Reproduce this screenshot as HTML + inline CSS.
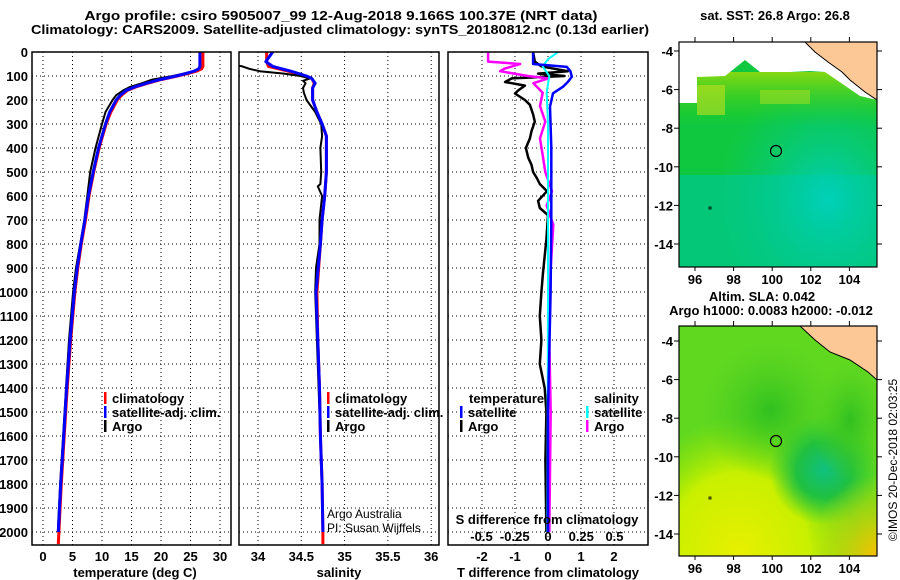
<!DOCTYPE html>
<html><head><meta charset="utf-8"><style>
html,body{margin:0;padding:0;background:#fff;}
svg{display:block;font-family:"Liberation Sans",Arial,sans-serif;}
.b{font-weight:bold;font-size:13px;}
</style></head><body>
<svg id="fig" width="900" height="580" viewBox="0 0 900 580" xmlns="http://www.w3.org/2000/svg">
<defs>
<clipPath id="c1"><rect x="32" y="52" width="199" height="493"/></clipPath>
<clipPath id="c2"><rect x="239" y="52" width="200" height="493"/></clipPath>
<clipPath id="c3"><rect x="448" y="52" width="200" height="493"/></clipPath>
<clipPath id="cm1"><rect x="679" y="42" width="198" height="225"/></clipPath>
<clipPath id="cm2"><rect x="679" y="326" width="198" height="230"/></clipPath>
<radialGradient id="gTeal" cx="0.75" cy="0.7" r="0.55"><stop offset="0" stop-color="#00d0b8"/><stop offset="1" stop-color="#00c890" stop-opacity="0"/></radialGradient>
<linearGradient id="gTop" x1="0" y1="0" x2="0" y2="1"><stop offset="0" stop-color="#b8e000"/><stop offset="1" stop-color="#30d000" stop-opacity="0"/></linearGradient>
<radialGradient id="gBlob" cx="0.5" cy="0.5" r="0.5"><stop offset="0" stop-color="#10c080"/><stop offset="0.5" stop-color="#20c040"/><stop offset="1" stop-color="#30c830" stop-opacity="0"/></radialGradient>
<radialGradient id="gYel" cx="0.3" cy="1" r="0.6"><stop offset="0" stop-color="#e8f000"/><stop offset="0.6" stop-color="#c8f000"/><stop offset="1" stop-color="#a0e800" stop-opacity="0"/></radialGradient>
<radialGradient id="gOr" cx="1" cy="1" r="0.35"><stop offset="0" stop-color="#f8c000"/><stop offset="1" stop-color="#f0e000" stop-opacity="0"/></radialGradient>
<radialGradient id="gDk" cx="0.5" cy="0.5" r="0.5"><stop offset="0" stop-color="#30c020"/><stop offset="1" stop-color="#50d020" stop-opacity="0"/></radialGradient>
</defs>

<text class="b" x="341" y="20" text-anchor="middle" font-size="13" textLength="513" lengthAdjust="spacingAndGlyphs">Argo profile: csiro 5905007_99 12-Aug-2018 9.166S 100.37E (NRT data)</text>
<text class="b" x="340" y="34" text-anchor="middle" font-size="13" textLength="618" lengthAdjust="spacingAndGlyphs">Climatology: CARS2009. Satellite-adjusted climatology: synTS_20180812.nc (0.13d earlier)</text>

<g id="grids"></g>
<g id="curves"></g>
<g id="frames"></g>
<g id="labels"></g>

<g class="b">
<rect x="104" y="392" width="2.5" height="12" fill="#f00"/><text x="112" y="403">climatology</text>
<rect x="104" y="406" width="2.5" height="12" fill="#00f"/><text x="112" y="417">satellite-adj. clim.</text>
<rect x="104" y="420" width="2.5" height="12" fill="#000"/><text x="112" y="431">Argo</text>
</g>
<g class="b">
<rect x="327" y="392" width="2.5" height="12" fill="#f00"/><text x="335" y="403">climatology</text>
<rect x="327" y="406" width="2.5" height="12" fill="#00f"/><text x="335" y="417">satellite-adj. clim.</text>
<rect x="327" y="420" width="2.5" height="12" fill="#000"/><text x="335" y="431">Argo</text>
</g>
<text x="327" y="518" font-size="12">Argo Australia</text>
<text x="327" y="532" font-size="12">PI: Susan Wijffels</text>
<g class="b">
<text x="469" y="403">temperature</text>
<rect x="460" y="406" width="2.5" height="12" fill="#00f"/><text x="468" y="417">satellite</text>
<rect x="460" y="420" width="2.5" height="12" fill="#000"/><text x="468" y="431">Argo</text>
<text x="594" y="403">salinity</text>
<rect x="586" y="406" width="2.5" height="12" fill="#0ff"/><text x="594" y="417">satellite</text>
<rect x="586" y="420" width="2.5" height="12" fill="#f0f"/><text x="594" y="431">Argo</text>
</g>
<text class="b" x="547" y="524" text-anchor="middle">S difference from climatology</text>
<g id="sticks" class="b"></g>

<text class="b" x="775" y="20" text-anchor="middle" font-size="12">sat. SST: 26.8 Argo: 26.8</text>
<g clip-path="url(#cm1)">
<rect x="679" y="42" width="198" height="225" fill="#10c840"/>
<rect x="679" y="175" width="198" height="92" fill="#00c890" opacity="0.7"/>
<rect x="679" y="42" width="198" height="225" fill="url(#gTeal)"/>
<rect x="679" y="72" width="198" height="55" fill="url(#gTop)" opacity="0.7"/>
<rect x="697" y="85" width="28" height="30" fill="#c0e020" opacity="0.6"/>
<rect x="760" y="90" width="50" height="14" fill="#b0e020" opacity="0.5"/>
<polygon points="679,42 877,42 877,100 860,96 825,72 810,71 790,72 760,72 745,60 725,76 697,77 697,103 679,103" fill="#fff"/>
<polygon points="805,42 877,42 877,100 865,92 850,80 842,72 828,62 815,52" fill="#fbc896" stroke="#000" stroke-width="1"/>
<circle cx="776" cy="151" r="5.5" fill="none" stroke="#000" stroke-width="1.2"/>
<rect x="709" y="207" width="2" height="2" fill="none" stroke="#000" stroke-width="0.8"/>
</g>
<rect x="679" y="42" width="198" height="225" fill="none" stroke="#000" stroke-width="1.2"/>

<text class="b" x="762" y="301" text-anchor="middle" font-size="12">Altim. SLA: 0.042</text>
<text class="b" x="771" y="315" text-anchor="middle" font-size="12">Argo h1000: 0.0083 h2000: -0.012</text>
<g clip-path="url(#cm2)">
<rect x="679" y="326" width="198" height="230" fill="#60d820"/>
<rect x="679" y="326" width="198" height="230" fill="url(#gYel)"/>
<ellipse cx="770" cy="410" rx="70" ry="70" fill="url(#gDk)"/>
<ellipse cx="824" cy="470" rx="55" ry="55" fill="url(#gBlob)"/>
<ellipse cx="850" cy="420" rx="40" ry="60" fill="url(#gDk)"/>
<rect x="679" y="326" width="198" height="230" fill="url(#gOr)"/>
<polygon points="800,326 877,326 877,380 868,372 850,360 830,352 815,340" fill="#fbc896" stroke="#000" stroke-width="1"/>
<circle cx="776" cy="441" r="5.5" fill="none" stroke="#000" stroke-width="1.2"/>
<rect x="709" y="497" width="2" height="2" fill="none" stroke="#000" stroke-width="0.8"/>
</g>
<rect x="679" y="326" width="198" height="230" fill="none" stroke="#000" stroke-width="1.2"/>
<g id="maplabels" class="b"></g>
<text transform="translate(897,460) rotate(-90)" text-anchor="middle" font-size="12">©IMOS 20-Dec-2018 02:03:25</text>
</svg>
<script>
var depthTicks = [0,100,200,300,400,500,600,700,800,900,1000,1100,1200,1300,1400,1500,1600,1700,1800,1900,2000];
var tempTicks = [0,5,10,15,20,25,30];
var salTicks = [34,34.5,35,35.5,36];
var salTickLabels = ["34","34.5","35","35.5","36"];
var dtTicks = [-2,-1,0,1,2];
var dsTicks = [-0.5,-0.25,0,0.25,0.5];
var dsTickLabels = ["-0.5","-0.25","0","0.25","0.5"];

var tDepth = [0,60,70,80,90,100,115,130,145,160,180,200,250,300,400,500,600,700,800,900,1000,1200,1400,1600,1800,2000,2050];
var tClim  = [27.1,27.1,26.9,26,24.5,22.8,20,17.8,15.8,14.3,13.3,12.6,11.5,10.7,9.5,8.6,7.8,7.2,6.5,5.9,5.4,4.7,4.1,3.6,3.1,2.7,2.6];
var tSat   = [26.6,26.6,26.4,25.6,24.2,22.6,19.8,17.6,15.6,14.1,13.1,12.4,11.3,10.6,9.4,8.5,7.7,7.1,6.4,5.8,5.3,4.6,4.0,3.5,3.0,2.6];
var tArgo  = [26.6,26.6,26.3,25.4,23.8,22.0,18.5,16.8,14.8,13.6,12.4,11.8,10.6,10.0,8.9,8.0,7.5,7.0,6.3,5.6,5.1,4.4,3.9,3.4,2.9,2.5];

var sDepth = [0,40,60,80,100,110,130,150,200,250,300,350,400,500,600,700,800,1000,1200,1400,1600,1800,2000,2050];
var sClim  = [34.10,34.10,34.12,34.35,34.55,34.62,34.65,34.63,34.63,34.68,34.74,34.79,34.79,34.79,34.77,34.74,34.72,34.68,34.69,34.71,34.72,34.74,34.75,34.75];
var sSat   = [34.17,34.09,34.17,34.38,34.56,34.62,34.66,34.63,34.63,34.68,34.74,34.79,34.79,34.79,34.77,34.74,34.72,34.67,34.69,34.71,34.72,34.74,34.75];
var saDepth = [45,60,70,80,90,100,110,120,130,150,170,200,250,300,350,400,500,550,560,600,700,800,900,1000,1200,1400,1600,1800,2000];
var sArgo   = [33.6,33.82,33.9,34.02,34.3,34.49,34.6,34.52,34.55,34.52,34.53,34.56,34.66,34.73,34.74,34.72,34.73,34.72,34.69,34.74,34.71,34.71,34.67,34.66,34.68,34.70,34.72,34.74,34.75];

var dtSatDepth = [0,50,62,80,103,125,145,172,227,400,700,1000,1500,2000];
var dtSat      = [-0.45,-0.45,0.57,0.68,0.72,0.6,0.45,0.15,0.06,0.1,0.1,0.08,0.0,0.0];
var dtArgoDepth = [0,40,60,70,80,90,100,110,125,140,160,173,200,220,260,290,330,360,400,440,470,500,525,550,580,620,650,680,780,920,1000,1100,1200,1300,1400,1500,1700,2000];
var dtArgo      = [-0.45,-0.4,-0.2,0.2,0.6,-0.3,0.5,-1.1,-1.3,-0.7,-0.9,-1.0,-0.7,-0.55,-0.45,-0.4,-0.5,-0.55,-0.67,-0.6,-0.5,-0.45,-0.34,-0.25,-0.03,-0.3,-0.25,0.0,-0.05,-0.15,-0.2,-0.25,-0.2,-0.25,-0.1,-0.05,-0.08,-0.05];
var dsArgoDepth = [0,40,50,70,80,100,110,130,170,225,290,360,430,500,580,640,720,900,1200,1500,2000];
var dsArgo      = [-0.45,-0.45,-0.21,-0.33,-0.36,-0.15,0.0,-0.11,-0.04,-0.06,-0.02,-0.06,-0.04,-0.02,0.03,-0.01,0.04,0.02,0.01,0.02,0.01];
var dsSatDepth = [0,30,60,100,170,300,1000,2000];
var dsSat      = [0.075,0.0,-0.04,0.01,-0.01,0.0,0.0,-0.005];

var lonTicks = [96,98,100,102,104];
var latTicks = [-4,-6,-8,-10,-12,-14];

var NS = "http://www.w3.org/2000/svg";
function yD(d){ return 52 + d*0.24; }
function xT(v){ return 43 + v*5.9; }
function xS(v){ return 258 + (v-34)*86.6; }
function xDT(v){ return 548 + v*33; }
function xDS(v){ return 548 + v*133; }
function xLon(v){ return 695 + (v-96)*19.3; }
function yLat1(v){ return 51 + (-4 - v)*19.3; }
function yLat2(v){ return 341 + (-4 - v)*19.3; }

function mk(tag, attrs, parent){
  var e = document.createElementNS(NS, tag);
  for (var k in attrs) e.setAttribute(k, attrs[k]);
  parent.appendChild(e); return e;
}
var grids = document.getElementById('grids');
var curves = document.getElementById('curves');
var frames = document.getElementById('frames');
var labels = document.getElementById('labels');

var panels = [
  {x0:32, x1:231, ticks:tempTicks, f:xT, lab:tempTicks.map(String), title:"temperature (deg C)", tx:135, name:"temperature"},
  {x0:239, x1:439, ticks:salTicks, f:xS, lab:salTickLabels, title:"salinity", tx:339, name:"salinity"},
  {x0:448, x1:648, ticks:dtTicks, f:xDT, lab:dtTicks.map(String), title:"T difference from climatology", tx:548, name:"difference"}
];
panels.forEach(function(p){
  depthTicks.forEach(function(d){
    var l = mk('line',{x1:p.x0,x2:p.x1,y1:yD(d),y2:yD(d),stroke:'#000','stroke-width':1,'stroke-dasharray':'1,3'},grids);
    
    
  });
  p.ticks.forEach(function(v,i){
    var l = mk('line',{x1:p.f(v),x2:p.f(v),y1:52,y2:545,stroke:'#000','stroke-width':1,'stroke-dasharray':'1,3'},grids);
    
    
    var t = mk('text',{x:p.f(v),y:561,'text-anchor':'middle','class':'b'},labels);
    t.textContent = p.lab[i];
    
    
  });
  var r = mk('rect',{x:p.x0,y:52,width:p.x1-p.x0,height:493,fill:'none',stroke:'#000','stroke-width':1.5},frames);
  
  
  var tt = mk('text',{x:p.tx,y:577,'text-anchor':'middle','class':'b'},labels);
  tt.textContent = p.title;
  
  
});
depthTicks.forEach(function(d){
  var t = mk('text',{x:28,y:yD(d)+5,'text-anchor':'end','class':'b'},labels);
  t.textContent = d;
  
  
});
var st = document.getElementById('sticks');
dsTicks.forEach(function(v,i){
  var t = mk('text',{x:xDS(v),y:541,'text-anchor':'middle'},st);
  t.textContent = dsTickLabels[i];
  
  
});

function line(depths, vals, fx, color, w, clip, name){
  var pts = [];
  for (var i=0;i<vals.length;i++) pts.push(fx(vals[i]).toFixed(1)+','+yD(depths[i]).toFixed(1));
  var pl = mk('polyline',{points:pts.join(' '),fill:'none',stroke:color,'stroke-width':w,'clip-path':'url(#'+clip+')','stroke-linejoin':'round'},curves);
  
  
}
line(tDepth, tClim, xT, '#f00', 3, 'c1', 'temperature-climatology-line');
line(tDepth, tArgo, xT, '#000', 2, 'c1', 'temperature-argo-line');
line(tDepth, tSat, xT, '#00f', 3, 'c1', 'temperature-satellite-line');
line(sDepth, sClim, xS, '#f00', 3, 'c2', 'salinity-climatology-line');
line(saDepth, sArgo, xS, '#000', 2, 'c2', 'salinity-argo-line');
line(sDepth, sSat, xS, '#00f', 3, 'c2', 'salinity-satellite-line');
line(dtArgoDepth, dtArgo, xDT, '#000', 2.5, 'c3', 't-diff-argo-line');
line(dsArgoDepth, dsArgo, xDS, '#f0f', 2.5, 'c3', 's-diff-argo-line');
line(dsSatDepth, dsSat, xDS, '#0ff', 2, 'c3', 's-diff-satellite-line');
line(dtSatDepth, dtSat, xDT, '#00f', 2.5, 'c3', 't-diff-satellite-line');

var ml = document.getElementById('maplabels');
[[yLat1,42,267],[yLat2,326,556]].forEach(function(m){
  latTicks.forEach(function(v){
    var y = m[0](v);
    var t = mk('text',{x:673,y:y+5,'text-anchor':'end'},ml);
    t.textContent = v;
    
    
    mk('line',{x1:877,x2:882,y1:y,y2:y,stroke:'#000'},ml);
    mk('line',{x1:674,x2:679,y1:y,y2:y,stroke:'#000'},ml);
  });
  lonTicks.forEach(function(v){
    var x = xLon(v);
    var t = mk('text',{x:x,y:m[2]+17,'text-anchor':'middle'},ml);
    t.textContent = v;
    
    
    mk('line',{x1:x,x2:x,y1:m[1]-5,y2:m[1],stroke:'#000'},ml);
    mk('line',{x1:x,x2:x,y1:m[2],y2:m[2]+4,stroke:'#000'},ml);
  });
});
</script>
</body></html>
